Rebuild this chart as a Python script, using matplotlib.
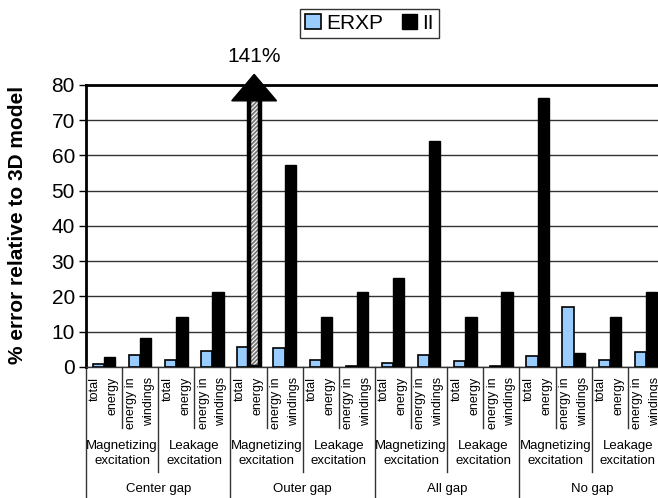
import numpy as np
import matplotlib
matplotlib.use("Agg")
import matplotlib.pyplot as plt
import matplotlib.transforms as mtransforms

plt.rcParams['font.family'] = ['Liberation Sans', 'DejaVu Sans']

# data
metrics = ["total\nenergy", "energy in\nwindings"]
excitations = ["Magnetizing\nexcitation", "Leakage\nexcitation"]
gaps = ["Center gap", "Outer gap", "All gap", "No gap"]
erxp = [0.8, 3.3, 1.9, 4.4, 5.8, 5.5, 1.9, 0.2, 1.2, 3.3, 1.8, 0.2, 3.1, 16.9, 2.0, 4.3]
ii = [2.7, 8.3, 14.1, 21.2, 141, 57.2, 14.1, 21.2, 25.2, 64.2, 14.1, 21.2, 76.2, 4.1, 14.1, 21.2]
ymax = 80

fig = plt.figure(figsize=(6.58, 4.98), dpi=100)
ax = fig.add_axes([0.1307, 0.2631, 0.8784, 0.5663])

n = len(erxp)
x = np.arange(n)
w = 0.31
ii_arr = np.array(ii, dtype=float)
over = ii_arr > ymax

ax.bar(x - w / 2, erxp, w, color="#99CCFF", edgecolor="black", linewidth=1.2, label="ERXP", zorder=3)
ax.bar(x + w / 2, np.where(over, 0, ii_arr), w, color="black", edgecolor="black", linewidth=1, label="II", zorder=3)

# off-scale bar: hatched with an arrow head
plt.rcParams['hatch.linewidth'] = 1.3
for i in np.where(over)[0]:
    xc = x[i] + w / 2
    ax.bar(xc, ymax, w, color="white", edgecolor="#777777", hatch="////////", linewidth=0, zorder=3)
    ax.bar(xc, ymax, w, fill=False, edgecolor="black", linewidth=3.2, zorder=4)
    hw = 0.62
    ax.fill([xc - hw, xc + hw, xc], [75.5, 75.5, 83.0], color="black", clip_on=False, zorder=5)
    ax.text(xc, 88, f"{ii[i]:.0f}%", ha="center", va="center", fontsize=15, clip_on=False)

ax.set_xlim(-0.5, n - 0.5)
ax.set_ylim(0, ymax)
ax.set_yticks(np.arange(0, ymax + 1, 10))
ax.tick_params(axis="y", labelsize=15, length=5, width=1, direction="out", pad=3)
ax.set_xticks([])
ax.yaxis.grid(True, color="#333333", linewidth=1)
ax.set_axisbelow(True)
ax.spines["left"].set_linewidth(2)
ax.spines["top"].set_linewidth(2)
ax.spines["right"].set_visible(False)
ax.spines["bottom"].set_color("#333333")
ax.spines["bottom"].set_linewidth(1)

# hierarchical category axis
trans = mtransforms.blended_transform_factory(ax.transData, fig.transFigure)
for k in range(n + 1):
    b = k - 0.5
    if k % 4 == 0:
        y0 = 0.0
    elif k % 2 == 0:
        y0 = 0.052
    else:
        y0 = 0.1406
    ax.plot([b, b], [0.2631, y0], color="#333333", linewidth=1, transform=trans, clip_on=False)

for i in range(n):
    ax.text(x[i], 0.243, metrics[i % 2], rotation=90, ha="center", va="top",
            multialignment="right", fontsize=9, linespacing=1.65, transform=trans)
for j in range(n // 2):
    ax.text(2 * j + 0.5, 0.0894, excitations[j % 2], ha="center", va="center",
            fontsize=9.5, linespacing=1.25, transform=trans)
for g, name in enumerate(gaps):
    ax.text(4 * g + 1.5, 0.018, name, ha="center", va="center", fontsize=9.5, transform=trans)

fig.text(0.027, 0.548, "% error relative to 3D model", rotation=90, ha="center", va="center",
         fontsize=15, fontweight="bold")

leg = fig.legend(loc="center", bbox_to_anchor=(0.5615, 0.9528), ncol=2, fontsize=15,
                 frameon=True, fancybox=False, edgecolor="black", handlelength=0.75,
                 handleheight=0.75, handletextpad=0.25, columnspacing=0.9, borderpad=0.25,
                 borderaxespad=0)
leg.get_frame().set_linewidth(1)

fig.savefig("out.png", dpi=100)
